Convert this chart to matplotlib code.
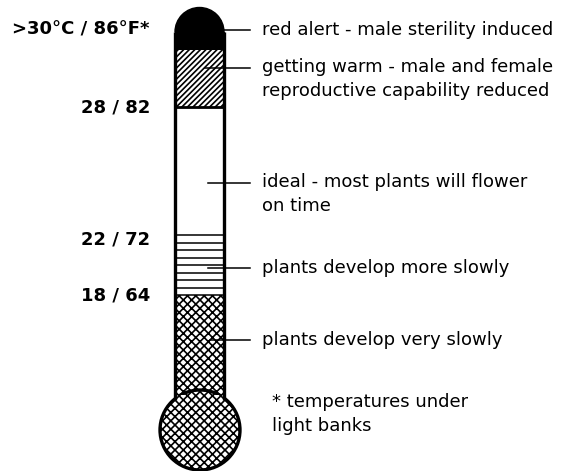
import matplotlib
matplotlib.use("Agg")
import matplotlib.pyplot as plt
from matplotlib.patches import Rectangle, Circle, Wedge

plt.rcParams['hatch.linewidth'] = 1.2
plt.rcParams['font.family'] = ['DejaVu Sans']

# zone boundaries along the tube (pixel rows, top to bottom)
zone_names = ['red alert', 'getting warm', 'ideal', 'more slowly', 'very slowly']
zone_top = [32, 50, 107, 235, 295]
zone_bottom = [50, 107, 235, 295, 410]
slow_lines = [235, 243, 250, 258, 265, 273, 280, 288, 295]

temp_labels = ['>30°C / 86°F*', '28 / 82', '22 / 72', '18 / 64']
temp_rows = [30, 107, 240, 296]

notes = ['red alert - male sterility induced',
         'getting warm - male and female\nreproductive capability reduced',
         'ideal - most plants will flower\non time',
         'plants develop more slowly',
         'plants develop very slowly']
note_rows = [30, 68, 183, 268, 340]
note_start = [224, 205, 208, 208, 210]

footnote = '* temperatures under\nlight banks'

fig = plt.figure(figsize=(5.84, 4.71), dpi=100)
ax = fig.add_axes([0, 0, 1, 1])
ax.set_xlim(0, 584)
ax.set_ylim(471, 0)
ax.axis('off')

left, right = 175, 224
cx = (left + right) / 2
r = (right - left) / 2

# dome
ax.add_patch(Wedge((cx, zone_top[0]), r, 180, 360, facecolor='black', edgecolor='black', lw=1))
ax.add_patch(Rectangle((left, zone_top[0]), right - left, zone_bottom[0] - zone_top[0],
                       facecolor='black', edgecolor='black', lw=1))
# warm
ax.add_patch(Rectangle((left, zone_top[1]), right - left, zone_bottom[1] - zone_top[1],
                       facecolor='white', edgecolor='black', hatch='//////', lw=0))
ax.plot([left, right], [zone_bottom[1], zone_bottom[1]], color='black', lw=2)
# slowly lines
for y in slow_lines:
    ax.plot([left, right], [y, y], color='black', lw=1.1)
# very slowly: tube part + bulb
ax.add_patch(Rectangle((left, zone_top[4]), right - left, zone_bottom[4] - zone_top[4],
                       facecolor='white', edgecolor='black', hatch='xxxx', lw=0))
ax.add_patch(Circle((200, 430), 40, facecolor='white', edgecolor='black', hatch='xxxx', lw=2.4))
ax.add_patch(Rectangle((left + 1, 395), right - left - 2, 25,
                       facecolor='white', edgecolor='black', hatch='xxxx', lw=0))
# outline
ax.plot([left, left], [zone_top[0], 400], color='black', lw=2.4, solid_capstyle='butt')
ax.plot([right, right], [zone_top[0], 400], color='black', lw=2.4, solid_capstyle='butt')

for lab, y in zip(temp_labels, temp_rows):
    ax.text(150, y, lab, ha='right', va='center', fontsize=13, fontweight='bold')

for txt, y, x0 in zip(notes, note_rows, note_start):
    ax.plot([x0, 250], [y, y], color='black', lw=1.1)
    if '\n' in txt:
        ax.text(262, y - 10, txt, ha='left', va='top', fontsize=13, linespacing=1.4)
    else:
        ax.text(262, y, txt, ha='left', va='center', fontsize=13)

ax.text(272, 393, footnote, ha='left', va='top', fontsize=13, linespacing=1.4)

fig.savefig('out.png', dpi=100)
